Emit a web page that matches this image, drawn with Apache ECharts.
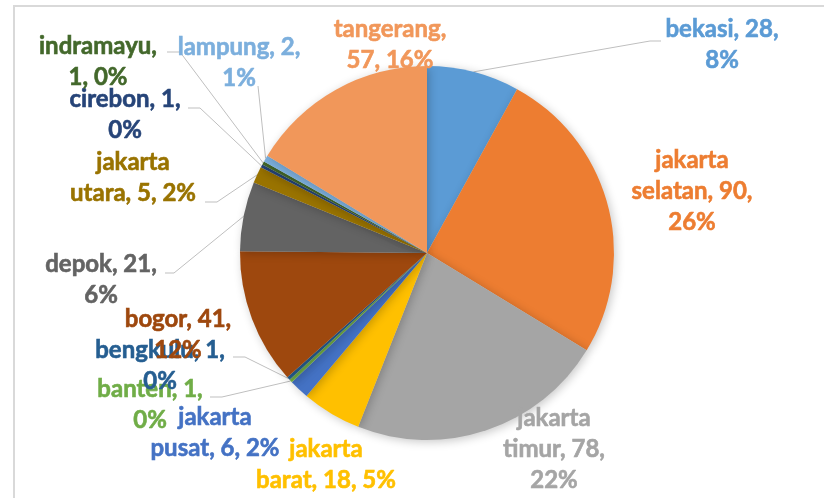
<!DOCTYPE html>
<html><head><meta charset="utf-8">
<script src="https://cdn.jsdelivr.net/npm/echarts@6/dist/echarts.min.js"></script>
<style>html,body{margin:0;padding:0;background:#fff}#c{width:824px;height:498px}</style>
</head><body><div id="c"></div>
<script>
const categories = ['bekasi','jakarta selatan','jakarta timur','jakarta barat','jakarta pusat','banten','bengkulu','bogor','depok','jakarta utara','cirebon','indramayu','lampung','tangerang'];
const values = [28, 90, 78, 18, 6, 1, 1, 41, 21, 5, 1, 1, 2, 57];
const percentLabels = [8, 26, 22, 5, 2, 0, 0, 12, 6, 2, 0, 0, 1, 16];
const colors = ['#5B9BD5','#ED7D31','#A5A5A5','#FFC000','#4472C4','#70AD47','#255E91','#9E480E','#636363','#997300','#264478','#43682B','#7CAFDD','#F1975A'];
// how many words per wrapped label line
const wrapCounts = [[2,1],[1,2,1],[1,2,1],[1,3],[1,3],[2,1],[2,1],[2,1],[2,1],[1,3],[2,1],[1,2],[2,1],[1,2]];
// label centres (layout only)
const labelPositions = [[722,45],[692,191],[554,449],[326,465],[215,433],[150,405],[160,366],[178,335],[101,280],[133,178],[125,115],[98,62],[239,63],[390,45]];
// leader line bend + end points (layout only)
const leaderLines = [
  [[650,41],[661,41]], null, null, null, null,
  [[222,397],[210,397]], [[245,357],[233,357]], null,
  [[174,273],[165,273]], [[217,202],[205,202]], [[200,108],[188,108]], [[180,52],[167,52]],
  [[258,86],[258,86]], null
];
const CX = 427, CY = 253, R = 187;
const total = values.reduce((a,b)=>a+b,0);
function anchor(i){
  let before = 0;
  for (let k=0;k<i;k++) before += values[k];
  const a = (before + values[i]/2)/total*2*Math.PI;
  return [CX + R*Math.sin(a), CY - R*Math.cos(a)];
}
const chart = echarts.init(document.getElementById('c'));
chart.setOption({
  animation:false,
  graphic:[{type:'rect',shape:{x:14,y:6,width:840,height:520},style:{fill:'none',stroke:'#d9d9d9',lineWidth:2},silent:true}],
  series:[{
    type:'pie',
    center:[CX,CY],
    radius:[0,R],
    startAngle:90,
    clockwise:true,
    avoidLabelOverlap:false,
    itemStyle:{borderWidth:0,shadowBlur:10,shadowColor:'rgba(0,0,0,0.22)',shadowOffsetX:2,shadowOffsetY:2},
    emphasis:{disabled:true},
    label:{
      show:true,position:'outside',
      fontFamily:'Lato',fontWeight:'bold',fontSize:24,lineHeight:31,align:'center',
      textBorderWidth:0.6,
      formatter:function(p){
        const tokens = (p.name+', '+p.value+', '+percentLabels[p.dataIndex]+'%').split(' ');
        const out=[]; let idx=0;
        wrapCounts[p.dataIndex].forEach(n=>{out.push(tokens.slice(idx,idx+n).join(' ')); idx+=n;});
        return out.join('\n');
      }
    },
    labelLine:{show:true,lineStyle:{color:'#bfbfbf',width:1},length:5,length2:5},
    labelLayout:function(p){
      const i=p.dataIndex;
      const pos=labelPositions[i];
      const res={x:pos[0],y:pos[1],align:'center',verticalAlign:'middle'};
      if(leaderLines[i]){
        res.labelLinePoints=[anchor(i),leaderLines[i][0],leaderLines[i][1]];
      }
      return res;
    },
    data:categories.map((n,i)=>({
      name:n,value:values[i],
      itemStyle:{color:colors[i]},
      label:{color:colors[i],textBorderColor:colors[i]},
      labelLine:{show:!!leaderLines[i]}
    }))
  }]
});
</script></body></html>
